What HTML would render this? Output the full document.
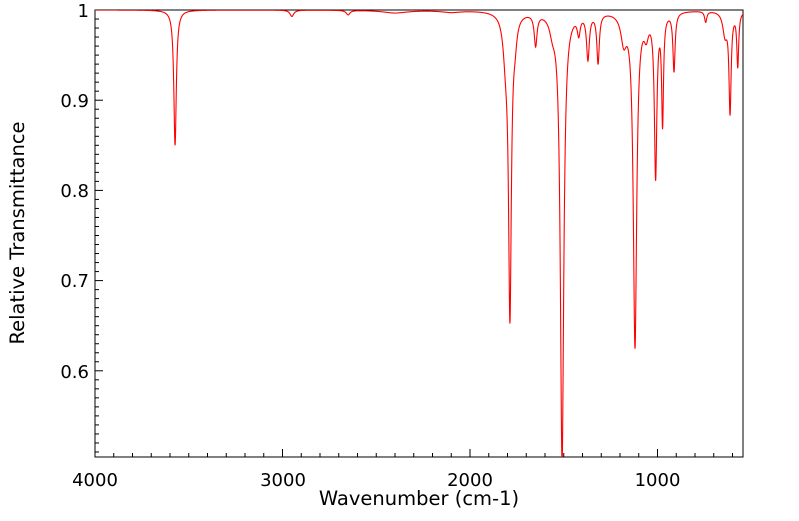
<!DOCTYPE html>
<html><head><meta charset="utf-8"><style>
body{margin:0;background:#fff;width:799px;height:516px;overflow:hidden}
svg{font-family:"DejaVu Sans","Liberation Sans",sans-serif}
</style></head><body>
<svg id="s" width="799" height="516" xmlns="http://www.w3.org/2000/svg">
<defs><clipPath id="c"><rect x="95" y="10" width="648" height="447"/></clipPath></defs>
<rect x="95" y="10" width="648" height="447" fill="#fff" stroke="#000" stroke-width="1"/>
<g id="ticks" stroke="#000" stroke-width="1"></g>
<path id="p" fill="none" stroke="#ff0000" stroke-width="1.1" clip-path="url(#c)"/>
<g font-size="18" fill="#000">
<text x="95" y="486" text-anchor="middle">4000</text>
<text x="283" y="486" text-anchor="middle">3000</text>
<text x="470" y="486" text-anchor="middle">2000</text>
<text x="657.5" y="486" text-anchor="middle">1000</text>
<text x="89" y="17" text-anchor="end">1</text>
<text x="89" y="107" text-anchor="end">0.9</text>
<text x="89" y="197" text-anchor="end">0.8</text>
<text x="89" y="287" text-anchor="end">0.7</text>
<text x="89" y="378" text-anchor="end">0.6</text>
<text x="419" y="505" text-anchor="middle" font-size="19.5">Wavenumber (cm-1)</text>
<text transform="translate(24,233) rotate(-90)" text-anchor="middle" font-size="19.5">Relative Transmittance</text>
</g>
</svg>
<script>
var X=function(w){return 95+(4000-w)*0.1875};
var Y=function(t){return 10+(1-t)*902};
var g=document.getElementById('ticks'),h='';
for(var w=4000;w>=549;w-=100){var x=X(w);var L=(w%1000==0)?8:4;h+='<line x1="'+x+'" y1="457" x2="'+x+'" y2="'+(457-L)+'"/>';}
for(var k=100;k>=51;k--){var y=Y(k/100);var L=(k%10==0)?8:4;h+='<line x1="95" y1="'+y+'" x2="'+(95+L)+'" y2="'+y+'"/>';}
g.innerHTML=h;
var P=[[3573,0.150,8],[2950,0.007,12],[2650,0.005,12],[2400,0.003,80],[2100,0.002,60],
[1810,0.04,16],[1787,0.33,9],[1760,0.02,12],[1650,0.035,9],[1560,0.015,18],
[1509,0.5,11],[1420,0.02,9],[1371,0.05,9],[1317,0.055,8],[1180,0.03,18],
[1120,0.37,11],[1060,0.02,14],[1010,0.18,8],[973,0.12,6],[912,0.065,7],[743,0.012,7],
[640,0.025,14],[613,0.11,7],[572,0.06,6]];
var d='';
for(var w=4000;w>=540;w-=1){var s=0;for(var i=0;i<P.length;i++){var q=(w-P[i][0])/P[i][2];s+=P[i][1]/(1+q*q);}
var T=1-s;d+=(w==4000?'M':'L')+X(w).toFixed(2)+' '+Y(T).toFixed(2);}
document.getElementById('p').setAttribute('d',d);
</script>
</body></html>
